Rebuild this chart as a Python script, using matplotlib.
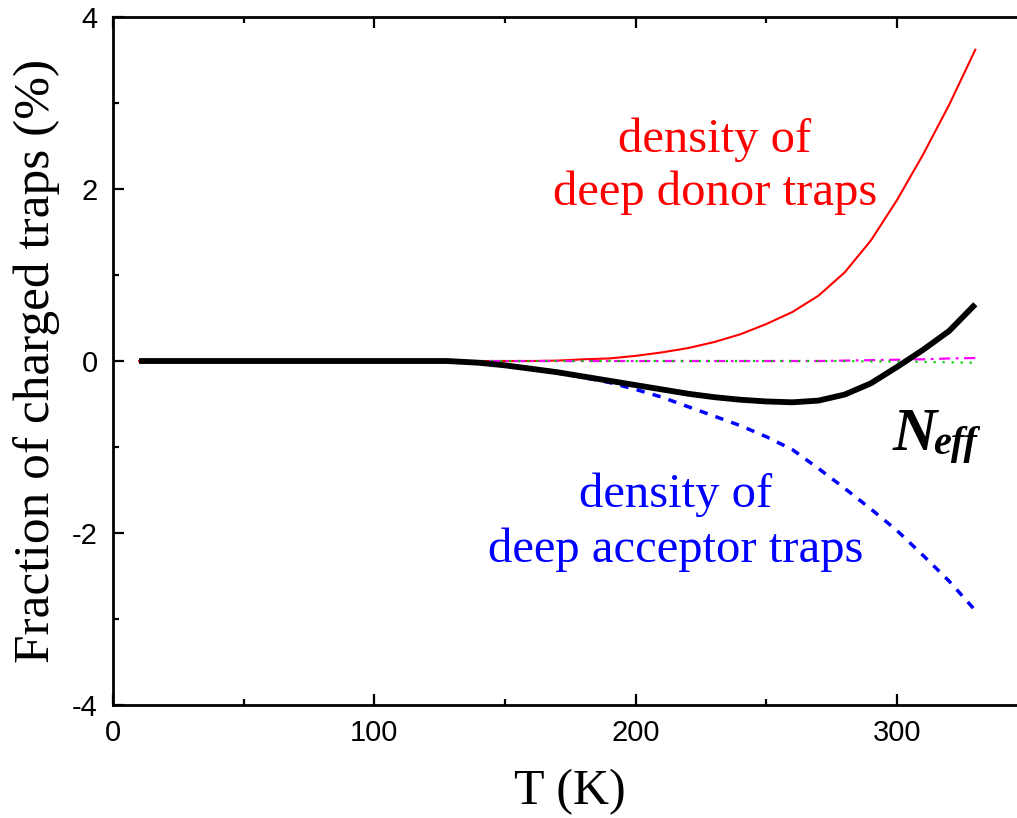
import matplotlib
matplotlib.use("Agg")
import matplotlib.pyplot as plt
from matplotlib.ticker import MultipleLocator

plt.rcParams['lines.scale_dashes'] = False
plt.rcParams['axes.unicode_minus'] = False

# temperature grid (K)
temp = [10, 50, 100, 128, 140, 150, 160, 170, 180, 190, 200, 210, 220, 230,
        240, 250, 260, 270, 280, 290, 300, 310, 320, 330]

# fraction of charged traps (%)
donor = [0, 0, 0, 0, 0, 0, 0, 0.005, 0.02, 0.03, 0.06, 0.10, 0.15, 0.22,
         0.31, 0.43, 0.57, 0.76, 1.03, 1.40, 1.87, 2.40, 2.98, 3.62]
acceptor = [0, 0, 0, 0, -0.02, -0.05, -0.09, -0.14, -0.19, -0.25, -0.33, -0.42,
            -0.53, -0.64, -0.75, -0.88, -1.03, -1.25, -1.48, -1.72, -1.97,
            -2.26, -2.56, -2.90]
n_eff = [0, 0, 0, 0, -0.02, -0.05, -0.09, -0.13, -0.18, -0.23, -0.28, -0.33,
         -0.38, -0.42, -0.45, -0.47, -0.48, -0.46, -0.39, -0.26, -0.07, 0.13,
         0.35, 0.66]
shallow_a = [0, 0, 0, 0, 0, 0, 0, 0, 0, 0, 0, 0, 0, 0, 0, 0, 0, 0, 0.005,
             0.01, 0.015, 0.02, 0.03, 0.035]
shallow_b = [0, 0, 0, 0, 0, 0, 0, 0, 0, 0, 0, 0, 0, 0, 0, 0, 0, 0, 0,
             -0.005, -0.005, -0.01, -0.015, -0.02]

serif = ['Liberation Serif', 'DejaVu Serif']
sans = ['Liberation Sans', 'DejaVu Sans']

fig = plt.figure(figsize=(10.17, 8.18), dpi=100, facecolor='white')
ax = fig.add_axes([0.1111, 0.1381, 0.8993, 0.8411])

ax.plot(temp, donor, color='#ff0000', lw=1.5, zorder=2)
ax.plot(temp, acceptor, color='#0000ff', lw=2.5, linestyle=(0, (6, 6)), zorder=2)
ax.plot(temp, shallow_a, color='#ff00ff', lw=1.6, linestyle=(0, (8, 4, 2, 4)), zorder=3)
ax.plot(temp, shallow_b, color='#00cc00', lw=1.6, linestyle=(0, (1.5, 5)), zorder=3)
ax.plot(temp, n_eff, color='black', lw=4.2, solid_capstyle='butt', zorder=4)

ax.set_xlim(0, 350)
ax.set_ylim(-4, 4)
ax.xaxis.set_major_locator(MultipleLocator(100))
ax.xaxis.set_minor_locator(MultipleLocator(50))
ax.yaxis.set_major_locator(MultipleLocator(2))
ax.yaxis.set_minor_locator(MultipleLocator(1))
ax.tick_params(which='both', direction='in', top=True, right=True, width=1.6)
ax.tick_params(which='major', length=8)
ax.tick_params(which='minor', length=4.5)
ax.tick_params(axis='x', pad=10)
ax.tick_params(axis='y', pad=11)
for lab in ax.get_xticklabels() + ax.get_yticklabels():
    lab.set_family(sans)
    lab.set_fontsize(21)
for sp in ax.spines.values():
    sp.set_linewidth(2)

ax.set_xlabel('T (K)', family=serif, fontsize=36, va='top')
ax.xaxis.set_label_coords(0.5, -0.092)
ax.set_ylabel('Fraction of charged traps (%)', family=serif, fontsize=37)
ax.yaxis.set_label_coords(-0.058, 0.5)

ax.text(230.4, 2.43, 'density of', color='#ff0000', family=serif, fontsize=35,
        ha='center', va='baseline')
ax.text(230.4, 1.81, 'deep donor traps', color='#ff0000', family=serif, fontsize=35,
        ha='center', va='baseline')
ax.text(215.5, -1.70, 'density of', color='#0000ff', family=serif, fontsize=35,
        ha='center', va='baseline')
ax.text(215.5, -2.34, 'deep acceptor traps', color='#0000ff', family=serif, fontsize=35,
        ha='center', va='baseline')

ax.text(298.5, -1.04, 'N', family=serif, fontsize=44, weight='bold', style='italic',
        ha='left', va='baseline')
ax.text(314.0, -1.08, 'eff', family=serif, fontsize=29, weight='bold', style='italic',
        ha='left', va='baseline')

fig.savefig('out.png', dpi=100, facecolor='white')
